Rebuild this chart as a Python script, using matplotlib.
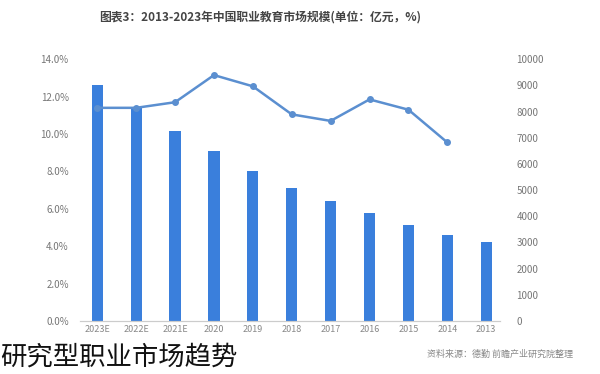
import matplotlib
matplotlib.use("Agg")
import matplotlib.pyplot as plt
import numpy as np

plt.rcParams['font.family'] = ['Noto Sans CJK SC', 'DejaVu Sans']

# datos (orden como aparece en la imagen, espejada)
anios = ["2023E", "2022E", "2021E", "2020", "2019", "2018", "2017", "2016", "2015", "2014", "2013"]
mercado = [9000, 8130, 7250, 6490, 5725, 5080, 4580, 4120, 3660, 3280, 3010]
crecimiento = [11.4, 11.4, 11.7, 13.15, 12.55, 11.05, 10.7, 11.85, 11.3, 9.55, np.nan]
pct_ticks = [0, 2, 4, 6, 8, 10, 12, 14]
val_ticks = list(range(0, 10001, 1000))

fig = plt.figure(figsize=(6, 3.74), dpi=100)
ax = fig.add_axes([0.133, 0.1417, 0.70, 0.700])
ax2 = ax.twinx()

x = np.arange(len(anios))
# barras en el eje de valores (derecha)
ax2.bar(x, mercado, width=0.29, color='#3a7fdc', zorder=2)
ax2.set_ylim(0, 10000)
ax2.set_yticks(val_ticks)
ax2.set_yticklabels([str(v) for v in val_ticks], fontsize=7, color='#777777')

# linea de crecimiento en el eje de porcentaje (izquierda)
ax.plot(x, crecimiento, color='#5b8fd0', lw=1.8, marker='o', ms=4, zorder=5)
ax.set_ylim(0, 14)
ax.set_yticks(pct_ticks)
ax.set_yticklabels(['{:.1f}%'.format(v) for v in pct_ticks], fontsize=7, color='#777777')
ax.set_xlim(-0.45, 10.35)
ax.set_xticks(x)
ax.set_xticklabels(anios, fontsize=6.5, color='#888888')

ax.set_zorder(ax2.get_zorder() + 1)
ax.patch.set_visible(False)

for a in (ax, ax2):
    for s in ['top', 'left', 'right']:
        a.spines[s].set_visible(False)
    a.spines['bottom'].set_color('#cccccc')
    a.tick_params(length=0, pad=8)
ax2.tick_params(pad=12)
ax.tick_params(axis='x', pad=3)

fig.text(0.433, 0.955, '图表3：2013-2023年中国职业教育市场规模(单位：亿元，%)',
         ha='center', va='center', fontsize=8.5, color='#444444', fontweight='bold')
fig.text(0.955, 0.052, '资料来源：德勤 前瞻产业研究院整理', ha='right', va='center',
         fontsize=6.5, color='#888888')
fig.text(0.0, 0.045, '研究型职业市场趋势', ha='left', va='center', fontsize=19, color='#111111')

fig.savefig('out.png', dpi=100)
